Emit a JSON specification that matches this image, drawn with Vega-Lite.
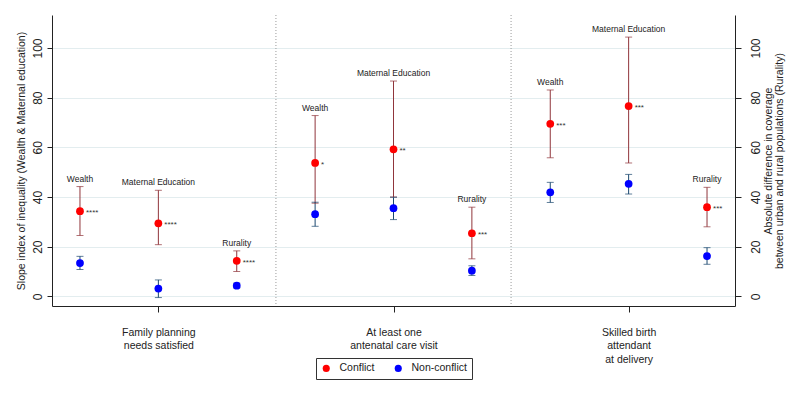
{
  "$schema": "https://vega.github.io/schema/vega-lite/v6.json",
  "width": 683,
  "height": 291,
  "autosize": {"type": "none"},
  "padding": {"left": 52, "top": 15, "right": 65, "bottom": 94},
  "config": {
    "font": "Liberation Sans",
    "view": {"stroke": null},
    "axis": {"labelColor": "#222", "titleColor": "#222", "domainColor": "#222", "tickColor": "#222", "titleFontWeight": "normal"},
    "text": {"font": "Liberation Sans"}
  },
  "datasets": {
    "est": [
      {"measure": "Family planning needs satisfied", "ind": "Wealth", "pos": 1, "group": "Conflict", "est": 34.3, "lo": 24.5, "hi": 44.2, "sig": "****"},
      {"measure": "Family planning needs satisfied", "ind": "Wealth", "pos": 1, "group": "Non-conflict", "est": 13.4, "lo": 10.8, "hi": 16.1, "sig": ""},
      {"measure": "Family planning needs satisfied", "ind": "Maternal Education", "pos": 2, "group": "Conflict", "est": 29.4, "lo": 20.8, "hi": 42.7, "sig": "****"},
      {"measure": "Family planning needs satisfied", "ind": "Maternal Education", "pos": 2, "group": "Non-conflict", "est": 3.1, "lo": -0.5, "hi": 6.6, "sig": ""},
      {"measure": "Family planning needs satisfied", "ind": "Rurality", "pos": 3, "group": "Conflict", "est": 14.3, "lo": 10.0, "hi": 18.3, "sig": "****"},
      {"measure": "Family planning needs satisfied", "ind": "Rurality", "pos": 3, "group": "Non-conflict", "est": 4.3, "lo": 3.4, "hi": 5.3, "sig": ""},
      {"measure": "At least one antenatal care visit", "ind": "Wealth", "pos": 4, "group": "Conflict", "est": 53.7, "lo": 37.5, "hi": 72.8, "sig": "*"},
      {"measure": "At least one antenatal care visit", "ind": "Wealth", "pos": 4, "group": "Non-conflict", "est": 33.1, "lo": 28.2, "hi": 37.9, "sig": ""},
      {"measure": "At least one antenatal care visit", "ind": "Maternal Education", "pos": 5, "group": "Conflict", "est": 59.2, "lo": 40.0, "hi": 86.7, "sig": "**"},
      {"measure": "At least one antenatal care visit", "ind": "Maternal Education", "pos": 5, "group": "Non-conflict", "est": 35.5, "lo": 30.9, "hi": 39.9, "sig": ""},
      {"measure": "At least one antenatal care visit", "ind": "Rurality", "pos": 6, "group": "Conflict", "est": 25.4, "lo": 15.1, "hi": 35.9, "sig": "***"},
      {"measure": "At least one antenatal care visit", "ind": "Rurality", "pos": 6, "group": "Non-conflict", "est": 10.3, "lo": 8.4, "hi": 12.3, "sig": ""},
      {"measure": "Skilled birth attendant at delivery", "ind": "Wealth", "pos": 7, "group": "Conflict", "est": 69.5, "lo": 55.8, "hi": 83.1, "sig": "***"},
      {"measure": "Skilled birth attendant at delivery", "ind": "Wealth", "pos": 7, "group": "Non-conflict", "est": 41.9, "lo": 37.8, "hi": 45.9, "sig": ""},
      {"measure": "Skilled birth attendant at delivery", "ind": "Maternal Education", "pos": 8, "group": "Conflict", "est": 76.6, "lo": 53.7, "hi": 104.4, "sig": "***"},
      {"measure": "Skilled birth attendant at delivery", "ind": "Maternal Education", "pos": 8, "group": "Non-conflict", "est": 45.3, "lo": 41.2, "hi": 49.1, "sig": ""},
      {"measure": "Skilled birth attendant at delivery", "ind": "Rurality", "pos": 9, "group": "Conflict", "est": 35.9, "lo": 28.0, "hi": 43.9, "sig": "***"},
      {"measure": "Skilled birth attendant at delivery", "ind": "Rurality", "pos": 9, "group": "Non-conflict", "est": 16.2, "lo": 12.9, "hi": 19.6, "sig": ""}
    ],
    "seps": [{"sep": 3.5}, {"sep": 6.5}]
  },
  "resolve": {"axis": {"y": "independent"}},
  "layer": [
    {
      "data": {"name": "est"},
      "mark": {"type": "rule", "strokeWidth": 1},
      "encoding": {
        "x": {"field": "pos", "type": "quantitative", "scale": {"domain": [0.643, 9.357], "nice": false, "zero": false},
          "axis": {"values": [2, 5, 8], "title": null, "grid": false, "tickSize": 6, "labelFontSize": 10.5, "labelPadding": 15, "labelLineHeight": 13.5,
            "labelAngle": 0, "labelAlign": "center", "labelBaseline": "top",
            "labelExpr": "datum.value == 2 ? ['Family planning','needs satisfied'] : datum.value == 5 ? ['At least one','antenatal care visit'] : ['Skilled birth','attendant','at delivery']"}},
        "y": {"field": "lo", "type": "quantitative", "scale": {"domain": [-3.9, 113.3], "nice": false, "zero": false},
          "axis": {"orient": "left", "values": [0, 20, 40, 60, 80, 100], "labelAngle": 270, "labelAlign": "center", "labelBaseline": "bottom",
            "labelPadding": 3, "tickSize": 5, "labelFontSize": 12, "grid": true, "gridColor": "#e3edef",
            "title": "Slope index of inequality (Wealth & Maternal education)", "titleFontSize": 10.5, "titlePadding": 5}},
        "y2": {"field": "hi"},
        "stroke": {"condition": {"test": "datum.group == 'Conflict'", "value": "#90353b"}, "value": "#1a476f"}
      }
    },
    {
      "data": {"name": "seps"},
      "mark": {"type": "rule", "stroke": "#9a9a9a", "strokeDash": [1, 2], "strokeWidth": 1},
      "encoding": {
        "x": {"field": "sep", "type": "quantitative"}
      }
    },
    {
      "data": {"name": "est"},
      "mark": {"type": "tick", "orient": "horizontal", "size": 7, "thickness": 1},
      "encoding": {
        "x": {"field": "pos", "type": "quantitative"},
        "y": {"field": "lo", "type": "quantitative", "scale": {"domain": [-3.9, 113.3], "nice": false, "zero": false}, "axis": null},
        "color": {"condition": {"test": "datum.group == 'Conflict'", "value": "#90353b"}, "value": "#1a476f"}
      }
    },
    {
      "data": {"name": "est"},
      "mark": {"type": "tick", "orient": "horizontal", "size": 7, "thickness": 1},
      "encoding": {
        "x": {"field": "pos", "type": "quantitative"},
        "y": {"field": "hi", "type": "quantitative", "scale": {"domain": [-3.9, 113.3], "nice": false, "zero": false}, "axis": null},
        "color": {"condition": {"test": "datum.group == 'Conflict'", "value": "#90353b"}, "value": "#1a476f"}
      }
    },
    {
      "data": {"name": "est"},
      "mark": {"type": "circle", "size": 60, "opacity": 1},
      "encoding": {
        "x": {"field": "pos", "type": "quantitative"},
        "y": {"field": "est", "type": "quantitative", "scale": {"domain": [-3.9, 113.3], "nice": false, "zero": false},
          "axis": {"orient": "right", "values": [0, 20, 40, 60, 80, 100], "labelAngle": 270, "labelAlign": "center", "labelBaseline": "top",
            "labelPadding": 9, "tickSize": 6, "labelFontSize": 12, "grid": false,
            "title": ["Absolute difference in coverage", "between urban and rural populations (Rurality)"],
            "titleFontSize": 10.5, "titleAngle": 270, "titleBaseline": "top", "titleAlign": "center", "titlePadding": -8, "titleLineHeight": 10.5}},
        "color": {"field": "group", "type": "nominal", "scale": {"domain": ["Conflict", "Non-conflict"], "range": ["#ff0000", "#0000ff"]},
          "legend": {"title": null, "orient": "none", "legendX": 264, "legendY": 343, "direction": "horizontal",
            "strokeColor": "#333", "padding": 5, "symbolType": "circle", "symbolSize": 50, "labelFontSize": 10.5, "labelColor": "#222",
            "labelOffset": 8, "columnPadding": 18, "symbolStrokeWidth": 0}}
      }
    },
    {
      "data": {"name": "est"},
      "transform": [{"filter": "datum.group == 'Conflict'"}],
      "mark": {"type": "text", "align": "left", "baseline": "middle", "dx": 6, "dy": 2, "fontSize": 8, "color": "#333"},
      "encoding": {
        "x": {"field": "pos", "type": "quantitative"},
        "y": {"field": "est", "type": "quantitative", "scale": {"domain": [-3.9, 113.3], "nice": false, "zero": false}, "axis": null},
        "text": {"field": "sig"}
      }
    },
    {
      "data": {"name": "est"},
      "transform": [{"filter": "datum.group == 'Conflict'"}],
      "mark": {"type": "text", "align": "center", "baseline": "middle", "dy": -8, "fontSize": 8.5, "color": "#222"},
      "encoding": {
        "x": {"field": "pos", "type": "quantitative"},
        "y": {"field": "hi", "type": "quantitative", "scale": {"domain": [-3.9, 113.3], "nice": false, "zero": false}, "axis": null},
        "text": {"field": "ind"}
      }
    }
  ]
}
